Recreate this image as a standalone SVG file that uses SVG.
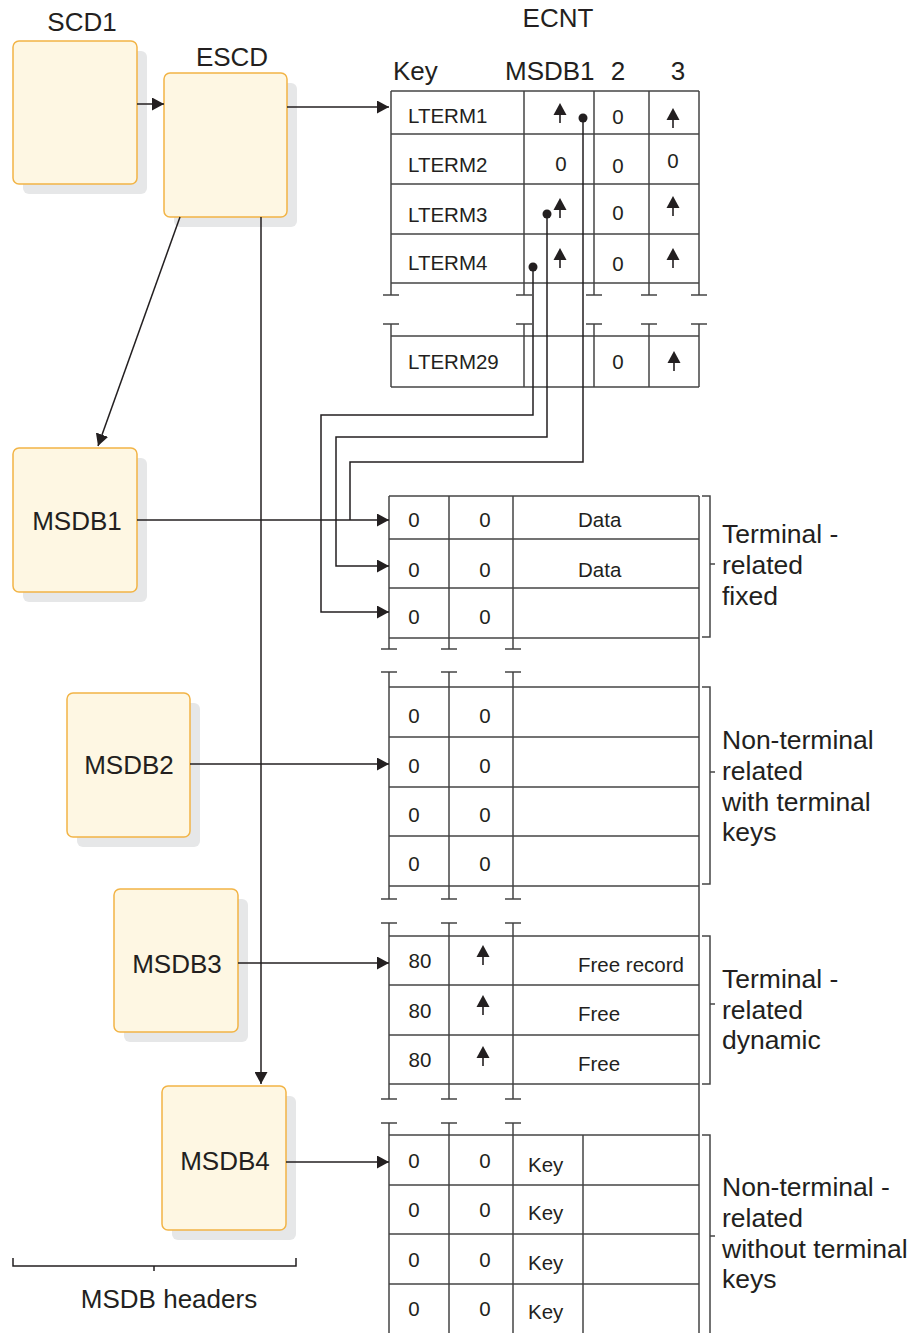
<svg xmlns="http://www.w3.org/2000/svg" width="914" height="1333" viewBox="0 0 914 1333">
<style>
.bg{fill:#ffffff}
.shadow{fill:#e6e7e8}
.box{fill:#fef7e3;stroke:#f2b446;stroke-width:1.5}
.lbl{font-family:"Liberation Sans",Arial,sans-serif;font-size:26px;fill:#231f20}
.side{font-family:"Liberation Sans",Arial,sans-serif;font-size:26.5px;fill:#231f20}
.cell{font-family:"Liberation Sans",Arial,sans-serif;font-size:20.5px;fill:#231f20}
.mid{text-anchor:middle}
.tbl{stroke:#454545;stroke-width:1.5;fill:none}
.conn{stroke:#231f20;stroke-width:1.5;fill:none}
.dot{fill:#231f20}
</style>
<defs>
<marker id="ah" viewBox="0 0 12 13" refX="12" refY="6.5" markerWidth="12" markerHeight="13" markerUnits="userSpaceOnUse" orient="auto">
<path d="M0,0 L12,6.5 L0,13 Z" fill="#231f20"/>
</marker>
<g id="up">
<path d="M0,0 L6.5,12 L-6.5,12 Z" fill="#231f20"/>
<line x1="0" y1="11" x2="0" y2="20" stroke="#231f20" stroke-width="1.6"/>
</g>
</defs>
<rect class="bg" x="0" y="0" width="914" height="1333"/>

<!-- Nodes -->
<g id="scd1">
<rect class="shadow" x="23" y="51" width="124" height="143" rx="6"/>
<rect class="box" x="13" y="41" width="124" height="143" rx="6"/>
<text class="lbl mid" x="82" y="31">SCD1</text>
</g>
<g id="escd">
<rect class="shadow" x="174" y="83" width="123" height="144" rx="6"/>
<rect class="box" x="164" y="73" width="123" height="144" rx="6"/>
<text class="lbl mid" x="232" y="66">ESCD</text>
</g>
<g id="msdb1">
<rect class="shadow" x="23" y="458" width="124" height="144" rx="6"/>
<rect class="box" x="13" y="448" width="124" height="144" rx="6"/>
<text class="lbl mid" x="77" y="530">MSDB1</text>
</g>
<g id="msdb2">
<rect class="shadow" x="77" y="703" width="123" height="144" rx="6"/>
<rect class="box" x="67" y="693" width="123" height="144" rx="6"/>
<text class="lbl mid" x="129" y="774">MSDB2</text>
</g>
<g id="msdb3">
<rect class="shadow" x="124" y="899" width="124" height="143" rx="6"/>
<rect class="box" x="114" y="889" width="124" height="143" rx="6"/>
<text class="lbl mid" x="177" y="973">MSDB3</text>
</g>
<g id="msdb4">
<rect class="shadow" x="172" y="1096" width="124" height="144" rx="6"/>
<rect class="box" x="162" y="1086" width="124" height="144" rx="6"/>
<text class="lbl mid" x="225" y="1170">MSDB4</text>
</g>
<g id="msdb-headers">
<path class="conn" d="M13,1258 V1266 H296 V1258 M154,1266 V1271" stroke="#444"/>
<text class="lbl mid" x="169" y="1308">MSDB headers</text>
</g>

<!-- ECNT table -->
<g id="ecnt">
<text class="lbl mid" x="558" y="27">ECNT</text>
<text class="lbl" x="393" y="80">Key</text>
<text class="lbl" x="505" y="80">MSDB1</text>
<text class="lbl mid" x="618" y="80">2</text>
<text class="lbl mid" x="678" y="80">3</text>
<path class="tbl" d="M391,91 H699 M391,134 H699 M391,184 H699 M391,234 H699 M391,283 H699
M391,91 V295 M524,91 V295 M594,91 V295 M649,91 V295 M699,91 V295
M383,295 H399 M516,295 H532 M586,295 H602 M641,295 H657 M691,295 H707
M383,324 H399 M516,324 H532 M586,324 H602 M641,324 H657 M691,324 H707
M391,324 V387 M524,324 V387 M594,324 V387 M649,324 V387 M699,324 V387
M391,336 H699 M391,387 H699"/>
<text class="cell" x="408" y="123">LTERM1</text>
<text class="cell" x="408" y="172">LTERM2</text>
<text class="cell" x="408" y="222">LTERM3</text>
<text class="cell" x="408" y="270">LTERM4</text>
<text class="cell" x="408" y="369">LTERM29</text>
<use href="#up" x="560" y="103"/>
<text class="cell mid" x="618" y="124">0</text>
<use href="#up" x="673" y="108"/>
<text class="cell mid" x="561" y="171">0</text>
<text class="cell mid" x="618" y="173">0</text>
<text class="cell mid" x="673" y="168">0</text>
<use href="#up" x="560" y="198"/>
<text class="cell mid" x="618" y="220">0</text>
<use href="#up" x="673" y="196"/>
<use href="#up" x="560" y="248"/>
<text class="cell mid" x="618" y="271">0</text>
<use href="#up" x="673" y="248"/>
<text class="cell mid" x="618" y="369">0</text>
<use href="#up" x="674" y="351"/>
</g>

<!-- MSDB tables -->
<g id="tables">
<path class="tbl" d="M699,496 V1333
M389,496 H699 M389,539 H699 M389,588 H699 M389,638 H699
M389,496 V649 M449,496 V649 M513,496 V649
M381,649 H397 M441,649 H457 M505,649 H521
M381,672 H397 M441,672 H457 M505,672 H521
M389,672 V899 M449,672 V899 M513,672 V899
M389,687 H699 M389,737 H699 M389,787 H699 M389,836 H699 M389,886 H699
M381,899 H397 M441,899 H457 M505,899 H521
M381,923 H397 M441,923 H457 M505,923 H521
M389,923 V1099 M449,923 V1099 M513,923 V1099
M389,936 H699 M389,985 H699 M389,1035 H699 M389,1084 H699
M381,1099 H397 M441,1099 H457 M505,1099 H521
M381,1123 H397 M441,1123 H457 M505,1123 H521
M389,1123 V1333 M449,1123 V1333 M513,1123 V1333 M583,1135 V1333
M389,1135 H699 M389,1185 H699 M389,1234 H699 M389,1284 H699"/>
<!-- table 1 -->
<text class="cell mid" x="414" y="527">0</text><text class="cell mid" x="485" y="527">0</text><text class="cell" x="578" y="527">Data</text>
<text class="cell mid" x="414" y="577">0</text><text class="cell mid" x="485" y="577">0</text><text class="cell" x="578" y="577">Data</text>
<text class="cell mid" x="414" y="624">0</text><text class="cell mid" x="485" y="624">0</text>
<!-- table 2 -->
<text class="cell mid" x="414" y="723">0</text><text class="cell mid" x="485" y="723">0</text>
<text class="cell mid" x="414" y="773">0</text><text class="cell mid" x="485" y="773">0</text>
<text class="cell mid" x="414" y="822">0</text><text class="cell mid" x="485" y="822">0</text>
<text class="cell mid" x="414" y="871">0</text><text class="cell mid" x="485" y="871">0</text>
<!-- table 3 -->
<text class="cell mid" x="420" y="968">80</text><use href="#up" x="483" y="945"/><text class="cell" x="578" y="972">Free record</text>
<text class="cell mid" x="420" y="1018">80</text><use href="#up" x="483" y="995"/><text class="cell" x="578" y="1021">Free</text>
<text class="cell mid" x="420" y="1067">80</text><use href="#up" x="483" y="1046"/><text class="cell" x="578" y="1071">Free</text>
<!-- table 4 -->
<text class="cell mid" x="414" y="1168">0</text><text class="cell mid" x="485" y="1168">0</text><text class="cell" x="528" y="1172">Key</text>
<text class="cell mid" x="414" y="1217">0</text><text class="cell mid" x="485" y="1217">0</text><text class="cell" x="528" y="1220">Key</text>
<text class="cell mid" x="414" y="1267">0</text><text class="cell mid" x="485" y="1267">0</text><text class="cell" x="528" y="1270">Key</text>
<text class="cell mid" x="414" y="1316">0</text><text class="cell mid" x="485" y="1316">0</text><text class="cell" x="528" y="1319">Key</text>
</g>

<!-- Brackets and side labels -->
<g id="bracket-fixed">
<path class="tbl" d="M702,496 H710 V637 H702 M710,564 H715"/>
<text class="side" x="722" y="543">Terminal -</text>
<text class="side" x="722" y="574">related</text>
<text class="side" x="722" y="605">fixed</text>
</g>
<g id="bracket-nonterm-keys">
<path class="tbl" d="M702,687 H710 V884 H702 M710,772 H715"/>
<text class="side" x="722" y="749">Non-terminal</text>
<text class="side" x="722" y="780">related</text>
<text class="side" x="722" y="811">with terminal</text>
<text class="side" x="722" y="841">keys</text>
</g>
<g id="bracket-dynamic">
<path class="tbl" d="M702,936 H710 V1084 H702 M710,1004 H715"/>
<text class="side" x="722" y="988">Terminal -</text>
<text class="side" x="722" y="1019">related</text>
<text class="side" x="722" y="1049">dynamic</text>
</g>
<g id="bracket-nonterm-nokeys">
<path class="tbl" d="M702,1135 H710 V1333 M710,1236 H715"/>
<text class="side" x="722" y="1196">Non-terminal -</text>
<text class="side" x="722" y="1227">related</text>
<text class="side" x="722" y="1258">without terminal</text>
<text class="side" x="722" y="1288">keys</text>
</g>

<!-- Connectors -->
<g id="connectors">
<line class="conn" x1="137" y1="104" x2="164" y2="104" marker-end="url(#ah)"/>
<line class="conn" x1="287" y1="107" x2="389" y2="107" marker-end="url(#ah)"/>
<line class="conn" x1="180" y1="217" x2="98" y2="446" marker-end="url(#ah)"/>
<line class="conn" x1="261" y1="217" x2="261" y2="1084" marker-end="url(#ah)"/>
<line class="conn" x1="137" y1="520" x2="389" y2="520" marker-end="url(#ah)"/>
<line class="conn" x1="190" y1="764" x2="389" y2="764" marker-end="url(#ah)"/>
<line class="conn" x1="238" y1="963" x2="389" y2="963" marker-end="url(#ah)"/>
<line class="conn" x1="286" y1="1162" x2="389" y2="1162" marker-end="url(#ah)"/>
<circle class="dot" cx="583" cy="118" r="4.5"/>
<circle class="dot" cx="547" cy="214" r="4.5"/>
<circle class="dot" cx="533" cy="267" r="4.5"/>
<path class="conn" d="M583,118 V462 H350 V520"/>
<path class="conn" d="M547,214 V437 H336 V566 H389" marker-end="url(#ah)"/>
<path class="conn" d="M533,267 V415 H321 V612 H389" marker-end="url(#ah)"/>
</g>
</svg>
